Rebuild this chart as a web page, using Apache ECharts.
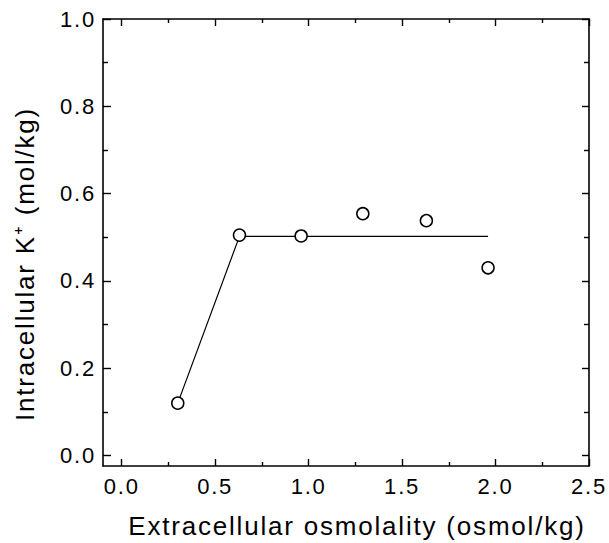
<!DOCTYPE html>
<html>
<head>
<meta charset="utf-8">
<script src="https://cdn.jsdelivr.net/npm/echarts@6/dist/echarts.min.js"></script>
<style>
html, body { margin: 0; padding: 0; background: #fff; }
#chart { width: 609px; height: 543px; }
#chart text { letter-spacing: 1.8px; }
</style>
</head>
<body>
<div id="chart"></div>
<script>
// Data
var osmolality = [0.30, 0.63, 0.96, 1.29, 1.63, 1.96];
var potassium  = [0.12, 0.505, 0.503, 0.554, 0.538, 0.43];
var fitX = [0.30, 0.63, 1.96];
var fitY = [0.12, 0.502, 0.502];
var xMajorTicks = [0.0, 0.5, 1.0, 1.5, 2.0, 2.5];
var xMinorTicks = [0.25, 0.75, 1.25, 1.75, 2.25];
var yMajorTicks = [0.0, 0.2, 0.4, 0.6, 0.8, 1.0];
var yMinorTicks = [0.1, 0.3, 0.5, 0.7, 0.9];
var xTitle = 'Extracellular osmolality (osmol/kg)';
var yTitle = 'Intracellular K\u207A (mol/kg)';

var FONT = '"Liberation Sans", Arial, Helvetica, sans-serif';
var X_MIN = -0.1, X_MAX = 2.5, Y_MIN = -0.024, Y_MAX = 1.0;

function makeAxis(pos, isX, ticks, len, showLine, showLabel) {
  return {
    type: 'value',
    position: pos,
    min: isX ? X_MIN : Y_MIN,
    max: isX ? X_MAX : Y_MAX,
    splitLine: { show: false },
    axisLine: { show: showLine, onZero: false, lineStyle: { color: '#000', width: 1.6 } },
    axisTick: { show: true, inside: true, length: len, customValues: ticks,
                lineStyle: { color: '#000', width: 1.4 } },
    axisLabel: { show: showLabel, customValues: ticks, color: '#000',
                 fontFamily: FONT, fontSize: 22, margin: isX ? 9 : 7,
                 formatter: function (v) { return v.toFixed(1); } }
  };
}

var chart = echarts.init(document.getElementById('chart'), null, { renderer: 'svg' });
chart.setOption({
  animation: false,
  backgroundColor: '#fff',
  grid: { left: 103, right: 20, top: 19, bottom: 77, containLabel: false },
  xAxis: [
    makeAxis('bottom', true, xMajorTicks, 7, true, true),
    makeAxis('bottom', true, xMinorTicks, 4, false, false),
    makeAxis('top', true, xMajorTicks, 7, true, false),
    makeAxis('top', true, xMinorTicks, 4, false, false)
  ],
  yAxis: [
    makeAxis('left', false, yMajorTicks, 8, true, true),
    makeAxis('left', false, yMinorTicks, 5, false, false),
    makeAxis('right', false, yMajorTicks, 7, true, false),
    makeAxis('right', false, yMinorTicks, 5, false, false)
  ],
  graphic: [
    {
      type: 'text', x: 357, y: 526,
      style: { text: xTitle, fill: '#000', font: '26px ' + FONT,
               align: 'center', verticalAlign: 'middle' }
    },
    {
      type: 'text', x: 25, y: 264, rotation: Math.PI / 2,
      style: { text: yTitle, fill: '#000', font: '26px ' + FONT,
               align: 'center', verticalAlign: 'middle' }
    }
  ],
  series: [
    {
      type: 'line', xAxisIndex: 0, yAxisIndex: 0,
      data: fitX.map(function (x, i) { return [x, fitY[i]]; }),
      symbol: 'none', lineStyle: { color: '#000', width: 1.2 }, z: 2
    },
    {
      type: 'scatter', xAxisIndex: 0, yAxisIndex: 0,
      data: osmolality.map(function (x, i) { return [x, potassium[i]]; }),
      symbol: 'circle', symbolSize: 12,
      itemStyle: { color: '#fff', borderColor: '#000', borderWidth: 1.5, opacity: 1 },
      z: 3
    }
  ]
});
</script>
</body>
</html>
